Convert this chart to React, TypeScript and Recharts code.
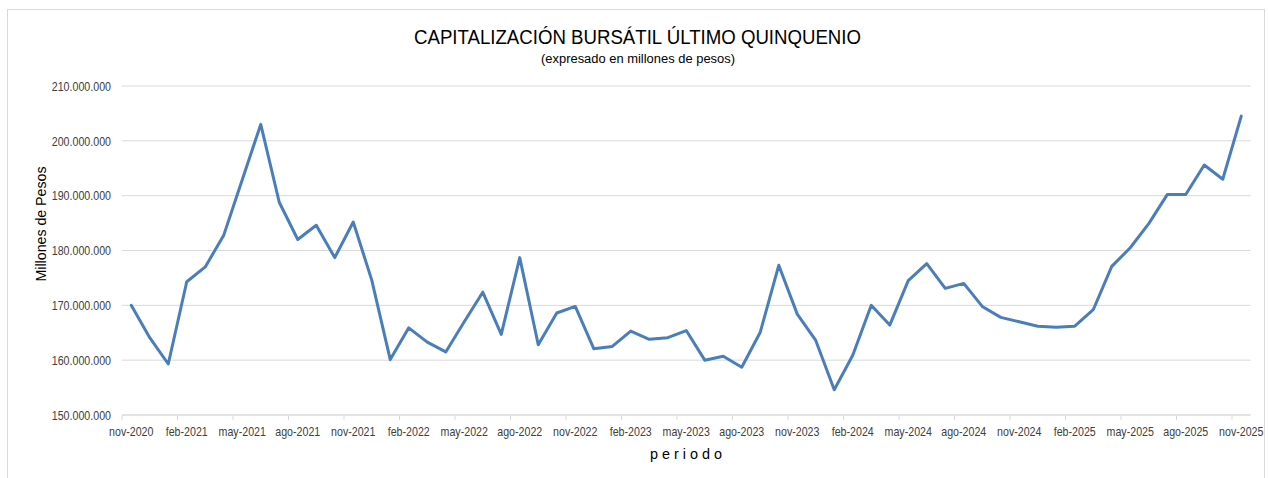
import React from "react";
import { LineChart, Line, XAxis, YAxis, CartesianGrid } from "recharts";

// periodos mensuales (nov-2020 a nov-2025)
const periodos = [
  "nov-2020", "dic-2020", "ene-2021", "feb-2021", "mar-2021", "abr-2021", "may-2021", "jun-2021",
  "jul-2021", "ago-2021", "sep-2021", "oct-2021", "nov-2021", "dic-2021", "ene-2022", "feb-2022",
  "mar-2022", "abr-2022", "may-2022", "jun-2022", "jul-2022", "ago-2022", "sep-2022", "oct-2022",
  "nov-2022", "dic-2022", "ene-2023", "feb-2023", "mar-2023", "abr-2023", "may-2023", "jun-2023",
  "jul-2023", "ago-2023", "sep-2023", "oct-2023", "nov-2023", "dic-2023", "ene-2024", "feb-2024",
  "mar-2024", "abr-2024", "may-2024", "jun-2024", "jul-2024", "ago-2024", "sep-2024", "oct-2024",
  "nov-2024", "dic-2024", "ene-2025", "feb-2025", "mar-2025", "abr-2025", "may-2025", "jun-2025",
  "jul-2025", "ago-2025", "sep-2025", "oct-2025", "nov-2025",
];

// capitalización en millones de pesos
const capitalizacion = [
  170000000, 164100000, 159300000, 174300000, 177000000, 182800000, 192900000, 203000000,
  188800000, 182000000, 184600000, 178700000, 185200000, 174600000, 160100000, 165900000,
  163300000, 161500000, 167000000, 172400000, 164700000, 178700000, 162800000, 168600000,
  169800000, 162100000, 162500000, 165300000, 163800000, 164100000, 165400000, 160000000,
  160700000, 158700000, 165100000, 177300000, 168400000, 163600000, 154600000, 160900000,
  170000000, 166400000, 174500000, 177600000, 173100000, 174000000, 169800000, 167800000,
  167000000, 166200000, 166000000, 166200000, 169200000, 177100000, 180500000, 184900000,
  190200000, 190200000, 195600000, 193000000, 204500000,
];

const yTicks = [150000000, 160000000, 170000000, 180000000, 190000000, 200000000, 210000000];

const data = periodos.map((p, i) => ({ periodo: p, valor: capitalizacion[i] }));

const fmt = (v: number) => String(v).replace(/\B(?=(\d{3})+(?!\d))/g, ".");

const HALF_BAND = 9.25;
const TICK_COLOR = "#404040";
const GRID = "#d9d9d9";

const XTick = (props: any) => {
  const { x, y, payload } = props;
  return (
    <g>
      <line x1={x - HALF_BAND} x2={x - HALF_BAND} y1={y} y2={y + 5} stroke={GRID} />
      <text
        transform={`translate(${x},${y + 21}) scale(0.82,1)`}
        textAnchor="middle"
        fontSize={13}
        fill={TICK_COLOR}
        fontFamily="'Liberation Sans', Arial, sans-serif"
      >
        {payload.value}
      </text>
    </g>
  );
};

const YTick = (props: any) => {
  const { x, y, payload } = props;
  return (
    <text
      transform={`translate(${x},${y}) scale(0.82,1)`}
      textAnchor="end"
      dy="0.36em"
      fontSize={13}
      fill={TICK_COLOR}
      fontFamily="'Liberation Sans', Arial, sans-serif"
    >
      {fmt(payload.value)}
    </text>
  );
};

export default function App() {
  return (
    <div
      style={{
        position: "absolute",
        left: 0,
        top: 0,
        width: 1268,
        height: 478,
        overflow: "hidden",
        background: "#fff",
      }}
    >
      <div
        style={{
          position: "absolute",
          left: 7,
          top: 9,
          width: 1256,
          height: 480,
          border: "1px solid #d9d9d9",
        }}
      />
      <div style={{ position: "absolute", left: 0, top: 0 }}>
        <LineChart
          width={1268}
          height={478}
          data={data}
          margin={{ top: 86, right: 17.5, bottom: 33, left: 0 }}
        >
          <CartesianGrid vertical={false} stroke={GRID} />
          <XAxis
            dataKey="periodo"
            interval={2}
            padding={{ left: HALF_BAND, right: HALF_BAND }}
            tickSize={0}
            tickMargin={0}
            tickLine={false}
            axisLine={{ stroke: GRID }}
            height={30}
            tick={<XTick />}
          />
          <YAxis
            domain={[150000000, 210000000]}
            ticks={yTicks}
            width={122}
            tickSize={0}
            tickMargin={11}
            axisLine={false}
            tickLine={false}
            tick={<YTick />}
          />
          <Line
            type="linear"
            dataKey="valor"
            stroke="#4A7EBB"
            strokeWidth={3}
            strokeLinejoin="round"
            strokeLinecap="round"
            dot={false}
            isAnimationActive={false}
          />
        </LineChart>
      </div>
      <svg
        width={1268}
        height={478}
        style={{ position: "absolute", left: 0, top: 0, pointerEvents: "none" }}
        fontFamily="'Liberation Sans', Arial, sans-serif"
      >
        <text x={637.5} y={44} textAnchor="middle" fontSize={20} fill="#000" textLength={447} lengthAdjust="spacingAndGlyphs">
          CAPITALIZACIÓN BURSÁTIL ÚLTIMO QUINQUENIO
        </text>
        <text x={638} y={63} textAnchor="middle" fontSize={12.5} fill="#000" textLength={194} lengthAdjust="spacingAndGlyphs">
          (expresado en millones de pesos)
        </text>
        <text
          transform="translate(46,224) rotate(-90)"
          textAnchor="middle"
          fontSize={15}
          fill="#000"
          textLength={115}
          lengthAdjust="spacingAndGlyphs"
        >
          Millones de Pesos
        </text>
        <text x={686} y={459} textAnchor="middle" fontSize={14} fill="#000" textLength={72} lengthAdjust="spacingAndGlyphs">
          p e r i o d o
        </text>
      </svg>
    </div>
  );
}
